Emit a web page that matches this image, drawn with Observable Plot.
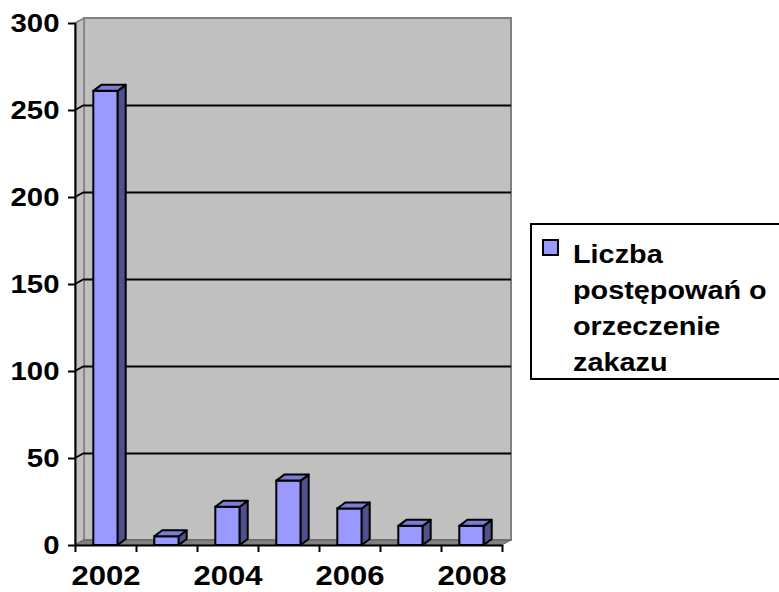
<!DOCTYPE html>
<html>
<head>
<meta charset="utf-8">
<script src="https://cdn.jsdelivr.net/npm/d3@7"></script>
<script src="https://cdn.jsdelivr.net/npm/@observablehq/plot@0.6"></script>
<style>
  html, body { margin: 0; padding: 0; background: #fff; }
  #wrap { position: relative; width: 779px; height: 592px; overflow: hidden; background: #fff; }
  #chart { position: absolute; left: 0; top: 0; }
  #legend { position: absolute; left: 530px; top: 223px; width: 300px; height: 157px;
            border: 2px solid #000; background: #fff; box-sizing: border-box; }
  #legend .sw { position: absolute; left: 10px; top: 14px; width: 17px; height: 17px;
                background: #9999FF; border: 2px solid #000; box-sizing: border-box; }
  #legend .tx { position: absolute; left: 41px; top: 11px; font-family: "Liberation Sans", Arial, sans-serif;
                font-weight: bold; font-size: 25.5px; line-height: 36px; color: #000; white-space: nowrap;
                transform: scaleX(1.13); transform-origin: 0 0; }
</style>
</head>
<body>
<div id="wrap">
  <div id="chart"></div>
  <div id="legend"><div class="sw"></div><div class="tx"></div></div>
</div>
<script>
// ---- data ----
const years = [2002, 2003, 2004, 2005, 2006, 2007, 2008];
const counts = [261, 5, 22, 37, 21, 11, 11];
const yTicks = [0, 50, 100, 150, 200, 250, 300];
const gridValues = [50, 100, 150, 200, 250];
const xLabels = [2002, 2004, 2006, 2008];
const xBoundaries = [2001.5, 2002.5, 2003.5, 2004.5, 2005.5, 2006.5, 2007.5, 2008.5];
const legendLines = ["Liczba", "postępowań o", "orzeczenie", "zakazu"];

const rows = years.map((year, i) => ({year, count: counts[i]}));
const xDomain = [2001.5, 2008.5];
const yDomain = [0, 300];
const halfBar = 0.2;
const font = "Liberation Sans";

// wall depth (pixels) and bar depth (pixels)
const WDX = 9, WDY = 5, BDX = 8, BDY = 6;

function pts(a) { return a.map(p => p.join(",")).join(" "); }

// back wall, side wall, floor, side wall gridline stubs
function walls(index, scales) {
  const {x, y} = scales;
  const g = d3.create("svg:g");
  const x0 = x(xDomain[0]), x1 = x(xDomain[1]), yb = y(yDomain[0]), yt = y(yDomain[1]);
  g.append("polygon").attr("points", pts([[x0 + WDX, yt - WDY], [x1 + WDX, yt - WDY], [x1 + WDX, yb - WDY], [x0 + WDX, yb - WDY]]))
    .attr("fill", "#C0C0C0").attr("stroke", "#808080").attr("stroke-width", 2);
  g.append("polygon").attr("points", pts([[x0, yb], [x0, yt], [x0 + WDX, yt - WDY], [x0 + WDX, yb - WDY]]))
    .attr("fill", "#C0C0C0").attr("stroke", "#808080").attr("stroke-width", 1.5);
  g.append("polygon").attr("points", pts([[x0, yb], [x1, yb], [x1 + WDX, yb - WDY], [x0 + WDX, yb - WDY]]))
    .attr("fill", "#808080").attr("stroke", "#606060").attr("stroke-width", 1);
  for (const v of gridValues) {
    g.append("line").attr("x1", x0).attr("y1", y(v)).attr("x2", x0 + WDX).attr("y2", y(v) - WDY)
      .attr("stroke", "#000").attr("stroke-width", 2);
  }
  return g.node();
}

// side and top faces of each bar
function barDepth(index, scales) {
  const {x, y} = scales;
  const g = d3.create("svg:g");
  for (const r of rows) {
    const xl = x(r.year - halfBar), xr = x(r.year + halfBar), yb = y(0), yv = y(r.count);
    g.append("polygon").attr("points", pts([[xr, yb], [xr, yv], [xr + BDX, yv - BDY], [xr + BDX, yb - BDY]]))
      .attr("fill", "#50508C").attr("stroke", "#000").attr("stroke-width", 2).attr("stroke-linejoin", "round");
    g.append("polygon").attr("points", pts([[xl, yv], [xr, yv], [xr + BDX, yv - BDY], [xl + BDX, yv - BDY]]))
      .attr("fill", "#7C7CD8").attr("stroke", "#000").attr("stroke-width", 2).attr("stroke-linejoin", "round");
  }
  return g.node();
}

const plot = Plot.plot({
  width: 779,
  height: 592,
  marginLeft: 75,
  marginRight: 277,
  marginTop: 23,
  marginBottom: 47,
  x: {type: "linear", domain: xDomain, axis: null},
  y: {type: "linear", domain: yDomain, axis: null},
  style: {background: "transparent", overflow: "visible"},
  marks: [
    walls,
    Plot.ruleY(gridValues, {y: d => d, x1: xDomain[0], x2: xDomain[1], dx: WDX, dy: -WDY, stroke: "#000", strokeWidth: 2}),
    Plot.rect(rows, {x1: d => d.year - halfBar, x2: d => d.year + halfBar, y1: 0, y2: "count", fill: "#9999FF", stroke: "#000", strokeWidth: 2}),
    barDepth,
    // axes
    Plot.ruleX([xDomain[0]], {x: d => d, y1: yDomain[0], y2: yDomain[1], stroke: "#000", strokeWidth: 2}),
    Plot.ruleY([0], {y: d => d, x1: xDomain[0], x2: xDomain[1], stroke: "#000", strokeWidth: 2}),
    Plot.ruleY(yTicks, {y: d => d, x1: xDomain[0], x2: xDomain[0], insetLeft: -7, stroke: "#000", strokeWidth: 2}),
    Plot.ruleX(xBoundaries, {x: d => d, y1: 0, y2: 0, insetBottom: -7, stroke: "#000", strokeWidth: 2}),
    Plot.text(yTicks, {x: xDomain[0], y: d => d, text: d => String(d), textAnchor: "end", dx: -16,
      fontSize: 26, fontWeight: "bold", fontFamily: font, fill: "#000"}),
    Plot.text(xLabels, {x: d => d, y: 0, text: d => String(d), textAnchor: "middle", dy: 31,
      fontSize: 27.5, fontWeight: "bold", fontFamily: font, fill: "#000"})
  ]
});
document.getElementById("chart").appendChild(plot);
// widen the lettering like the stretched original
d3.select(plot).selectAll("text").each(function() {
  const w = this.getComputedTextLength();
  if (w > 0) {
    this.setAttribute("textLength", (w * 1.13).toFixed(1));
    this.setAttribute("lengthAdjust", "spacingAndGlyphs");
  }
});
document.querySelector("#legend .tx").innerHTML = legendLines.join("<br>");
</script>
</body>
</html>
